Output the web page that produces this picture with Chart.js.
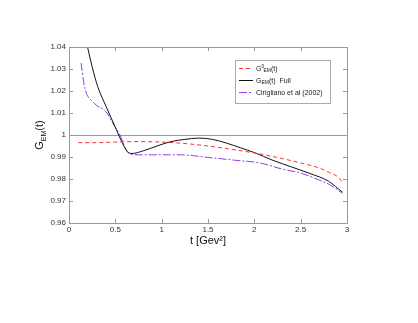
<!DOCTYPE html>
<html>
<head>
<meta charset="utf-8">
<script src="https://cdn.jsdelivr.net/npm/chart.js@4/dist/chart.umd.min.js"></script>
<style>
  html, body { margin: 0; padding: 0; background: #fff; }
  #wrap { width: 418px; height: 323px; }
</style>
</head>
<body>
<div id="wrap"><canvas id="myChart" width="418" height="323"></canvas></div>
<script>
// G0_EM(t)  (red dashed)
var tRed = [0.1, 0.3, 0.5, 0.7, 1.0, 1.2, 1.5, 1.8, 2.06, 2.3, 2.5, 2.7, 2.82, 2.9, 2.95];
var gRed = [0.9965, 0.9965, 0.9968, 0.997, 0.9968, 0.9963, 0.995, 0.9932, 0.9914, 0.9893, 0.9873, 0.985, 0.9827, 0.981, 0.9786];
// G_EM(t) Full  (black)
var tFull = [0.2, 0.25, 0.31, 0.4, 0.5, 0.58, 0.63, 0.68, 0.8, 0.95, 1.1, 1.25, 1.4, 1.55, 1.7, 1.85, 2.0, 2.2, 2.4, 2.6, 2.8, 2.95];
var gFull = [1.040, 1.031, 1.022, 1.013, 1.0035, 0.996, 0.9925, 0.9916, 0.9928, 0.995, 0.997, 0.998, 0.9986, 0.998, 0.9963, 0.9942, 0.992, 0.9885, 0.9855, 0.9825, 0.979, 0.974];
// Cirigliano et al (2002)  (purple dash-dot)
var tCir = [0.13, 0.17, 0.26, 0.41, 0.47, 0.55, 0.63, 0.7, 0.9, 1.2, 1.5, 1.8, 2.06, 2.3, 2.5, 2.7, 2.82, 2.95];
var gCir = [1.0327, 1.0215, 1.015, 1.01, 1.0055, 1.0, 0.9923, 0.991, 0.991, 0.991, 0.9898, 0.9885, 0.9873, 0.9845, 0.9827, 0.9795, 0.9773, 0.9735];

var xTicks = [0, 0.5, 1, 1.5, 2, 2.5, 3];
var yTicks = [0.96, 0.97, 0.98, 0.99, 1, 1.01, 1.02, 1.03, 1.04];

function pts(xs, ys) {
    var out = [];
    for (var i = 0; i < xs.length; i++) out.push({x: xs[i], y: ys[i]});
    return out;
}

var FONT = '"Liberation Sans", Arial, sans-serif';

// frame, inward ticks, line at 1, titles and legend (gnuplot look)
var decor = {
    id: 'decor',
    beforeDatasetsDraw: function(chart) {
        var c = chart.ctx, a = chart.chartArea, sy = chart.scales.y;
        c.save();
        c.strokeStyle = '#999';
        c.lineWidth = 1;
        var y1 = Math.round(sy.getPixelForValue(1)) + 0.5;
        c.beginPath(); c.moveTo(a.left, y1); c.lineTo(a.right, y1); c.stroke();
        c.restore();
    },
    afterDraw: function(chart) {
        var c = chart.ctx, a = chart.chartArea, sx = chart.scales.x, sy = chart.scales.y;
        c.save();
        c.strokeStyle = '#999';
        c.lineWidth = 1;
        c.strokeRect(Math.round(a.left) + 0.5, Math.round(a.top) + 0.5, Math.round(a.right - a.left), Math.round(a.bottom - a.top));
        c.beginPath();
        xTicks.forEach(function(v) {
            var p = Math.round(sx.getPixelForValue(v)) + 0.5;
            c.moveTo(p, a.bottom); c.lineTo(p, a.bottom - 4);
            c.moveTo(p, a.top); c.lineTo(p, a.top + 4);
        });
        yTicks.forEach(function(v) {
            var p = Math.round(sy.getPixelForValue(v)) + 0.5;
            c.moveTo(a.left, p); c.lineTo(a.left + 4, p);
            c.moveTo(a.right, p); c.lineTo(a.right - 4, p);
        });
        c.stroke();

        // tick labels
        c.fillStyle = '#333';
        c.font = '8px ' + FONT;
        c.textAlign = 'center'; c.textBaseline = 'top';
        xTicks.forEach(function(v) {
            c.fillText(String(v), sx.getPixelForValue(v), a.bottom + 3);
        });
        c.textAlign = 'right'; c.textBaseline = 'middle';
        yTicks.forEach(function(v) {
            c.fillText(v === 1 ? '1' : v.toFixed(2), a.left - 3, sy.getPixelForValue(v));
        });

        // x title
        c.fillStyle = '#111';
        c.font = '11px ' + FONT;
        c.textAlign = 'center'; c.textBaseline = 'middle';
        c.fillText('t [Gev\u00B2]', (a.left + a.right) / 2, a.bottom + 18);

        // y title G_EM(t)
        c.save();
        c.translate(a.left - 30, (a.top + a.bottom) / 2);
        c.rotate(-Math.PI / 2);
        c.textAlign = 'left'; c.textBaseline = 'alphabetic';
        var w1 = c.measureText('G').width;
        c.font = '7px ' + FONT;
        var w2 = c.measureText('EM').width;
        c.font = '11px ' + FONT;
        var w3 = c.measureText('(t)').width;
        var x0 = -(w1 + w2 + w3) / 2;
        c.fillText('G', x0, 4);
        c.font = '7px ' + FONT;
        c.fillText('EM', x0 + w1, 7);
        c.font = '11px ' + FONT;
        c.fillText('(t)', x0 + w1 + w2, 4);
        c.restore();

        // legend
        var lx = 235, ly = 60, lw = 95, lh = 43;
        c.fillStyle = '#fff';
        c.fillRect(lx, ly, lw, lh);
        c.strokeStyle = '#aaa';
        c.strokeRect(lx + 0.5, ly + 0.5, lw, lh);
        var rows = [
            {ds: 0, y: ly + 8},
            {ds: 1, y: ly + 20},
            {ds: 2, y: ly + 32}
        ];
        rows.forEach(function(r) {
            var d = chart.data.datasets[r.ds];
            c.strokeStyle = d.borderColor;
            c.lineWidth = 1;
            c.setLineDash(d.borderDash || []);
            c.beginPath(); c.moveTo(lx + 4, r.y + 0.5); c.lineTo(lx + 18, r.y + 0.5); c.stroke();
            c.setLineDash([]);
        });
        c.fillStyle = '#222';
        c.textBaseline = 'alphabetic'; c.textAlign = 'left';
        var tx = lx + 21;
        // row 1: G^0_EM(t)
        c.font = '7px ' + FONT;
        c.fillText('G', tx, rows[0].y + 2.5);
        var gw = c.measureText('G').width;
        c.font = '5px ' + FONT;
        c.fillText('0', tx + gw, rows[0].y - 0.5);
        c.fillText('EM', tx + gw + 2, rows[0].y + 4);
        var ew = c.measureText('EM').width;
        c.font = '7px ' + FONT;
        c.fillText('(t)', tx + gw + 2 + ew, rows[0].y + 2.5);
        // row 2: G_EM(t)  Full
        c.fillText('G', tx, rows[1].y + 2.5);
        c.font = '5px ' + FONT;
        c.fillText('EM', tx + gw, rows[1].y + 4);
        c.font = '7px ' + FONT;
        c.fillText('(t)  Full', tx + gw + ew, rows[1].y + 2.5);
        // row 3
        c.fillText('Cirigliano et al (2002)', tx, rows[2].y + 2.5);
        c.restore();
    }
};

var ctx = document.getElementById('myChart').getContext('2d');
var myChart = new Chart(ctx, {
    type: 'line',
    data: {
        datasets: [{
            label: 'G0_EM(t)',
            data: pts(tRed, gRed),
            borderColor: '#ff3030',
            borderDash: [4, 3],
            borderWidth: 1,
            pointRadius: 0,
            cubicInterpolationMode: 'monotone'
        }, {
            label: 'G_EM(t)  Full',
            data: pts(tFull, gFull),
            borderColor: '#111111',
            borderWidth: 1,
            pointRadius: 0,
            cubicInterpolationMode: 'monotone'
        }, {
            label: 'Cirigliano et al (2002)',
            data: pts(tCir, gCir),
            borderColor: '#9040e0',
            borderDash: [8, 2, 2, 2],
            borderWidth: 1,
            pointRadius: 0,
            cubicInterpolationMode: 'monotone'
        }]
    },
    options: {
        responsive: false,
        animation: false,
        layout: { padding: { top: 47, right: 71, bottom: 0, left: 0 } },
        plugins: { legend: { display: false }, tooltip: { enabled: false } },
        scales: {
            x: {
                type: 'linear', min: 0, max: 3,
                grid: { display: false },
                border: { display: false },
                ticks: { display: false },
                afterFit: function(s) { s.height = 100; }
            },
            y: {
                min: 0.96, max: 1.04,
                grid: { display: false },
                border: { display: false },
                ticks: { display: false },
                afterFit: function(s) { s.width = 69; }
            }
        }
    },
    plugins: [decor]
});
</script>
</body>
</html>
